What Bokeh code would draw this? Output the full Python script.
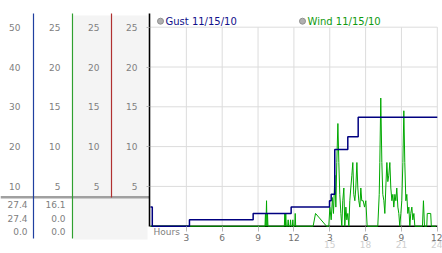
from bokeh.plotting import figure
from bokeh.models import Range1d, LinearAxis, FixedTicker
from bokeh.core.properties import value
from bokeh.embed import file_html
from bokeh.resources import INLINE

# ---------------- data ----------------
date_label = "11/15/10"
gust_name = "Gust"
wind_name = "Wind"

# gust (step series, left scale 0-50)
gust_hours = [0.0, 0.15, 3.26, 8.59, 11.77, 14.98, 15.12, 15.42, 16.51, 17.38, 24.0]
gust_vals = [4.8, 0.0, 1.6, 3.2, 4.8, 6.4, 8.0, 19.3, 22.5, 27.4, 27.4]

# wind (scale 0-25)
wind_hours = [0.0, 9.58, 9.62, 9.66, 9.71, 9.75, 9.79, 9.83,
              11.20, 11.24, 11.28, 11.32, 11.36, 11.48, 11.52, 11.56, 11.68, 11.72, 11.76,
              11.87, 11.91, 11.95, 12.07, 12.11, 12.15,
              13.61, 13.81, 14.73,
              14.92, 15.01, 15.12, 15.23, 15.31, 15.43, 15.51, 15.59, 15.68, 15.76, 15.84,
              15.93, 16.01, 16.09, 16.18, 16.26, 16.35, 16.43, 16.51, 16.60, 16.68, 16.76,
              16.85, 16.93, 17.01, 17.10, 17.18, 17.27, 17.35, 17.43, 17.52, 17.60, 17.68,
              17.80, 17.91, 18.02, 18.13,
              19.02, 19.14, 19.19, 19.27, 19.36, 19.44, 19.53, 19.61, 19.69, 19.78, 19.86,
              19.94, 20.03, 20.11, 20.20, 20.28, 20.36, 20.45, 20.53, 20.61, 20.70, 20.78,
              20.86, 20.95, 21.03, 21.12, 21.20, 21.28, 21.37, 21.45, 21.53, 21.62, 21.70,
              21.78, 21.87, 21.95, 22.04, 22.12,
              22.76, 22.84, 22.93, 23.12, 23.16, 23.45, 23.50, 23.90]
wind_vals = [0.0, 0.0, 1.6, 0.0, 3.2, 0.0, 1.6, 0.0,
             0.0, 1.6, 0.0, 1.6, 0.0, 0.0, 0.8, 0.0, 0.0, 0.8, 0.0,
             0.0, 0.8, 0.0, 0.0, 1.6, 0.0,
             0.0, 1.6, 0.0,
             0.0, 2.4, 0.8, 3.6, 1.6, 6.4, 2.4, 8.0, 12.9, 8.0, 4.0,
             1.6, 0.0, 3.2, 4.8, 0.0, 2.4, 0.8, 1.6, 0.0, 3.2, 4.8,
             6.4, 8.0, 4.0, 3.2, 4.8, 8.0, 4.8, 3.2, 2.4, 4.8, 3.2,
             3.2, 2.4, 3.2, 0.0,
             0.0, 4.0, 8.0, 16.1, 8.0, 4.0, 3.2, 1.6, 4.8, 8.0, 5.6,
             6.4, 8.0, 4.8, 3.2, 4.0, 2.4, 4.0, 3.2, 4.8, 2.4, 1.6,
             0.0, 1.6, 3.2, 8.0, 14.5, 8.0, 3.2, 4.0, 1.6, 2.4, 0.0,
             1.6, 2.4, 0.8, 1.6, 0.0,
             0.0, 3.2, 0.0, 0.0, 1.6, 1.6, 0.0, 0.0]

# summary table values
gust_stats = [27.4, 27.4, 0.0]
wind_stats = [16.1, 0.0, 0.0]

# scales / ticks
gust_ticks = [10, 20, 30, 40, 50]
wind_ticks = [5, 10, 15, 20, 25]
hour_ticks = [3, 6, 9, 12, 15, 18, 21, 24]
hour_tick_labels = ["3", "6", "9", "12", "3", "6", "9", "12"]
hour_ticks_pm = [15, 18, 21, 24]
grid_hours = [3, 6, 9, 12, 15, 18, 21, 24]
x_label = "Hours"

# ---------------- layout helpers (pixel layout -> data space) ----------------
W, H = 442, 253
X0_PX, PX_PER_H = 150.0, 11.95
Y0_PX, PX_PER_U = 225.7, 7.96


def hx(px):
    return (px - X0_PX) / PX_PER_H


def vy(py):
    return (Y0_PX - py) / PX_PER_U


FONT = value("DejaVu Sans")

p = figure(width=W, height=H, output_backend="svg", toolbar_location=None,
           x_range=Range1d(hx(0), hx(W)), y_range=Range1d(vy(H), vy(0)),
           x_axis_type=None, y_axis_type=None, min_border=0,
           outline_line_color=None, tools="")
p.extra_y_ranges = {"gust": Range1d(2 * vy(H), 2 * vy(0))}
p.background_fill_color = "white"
p.border_fill_color = "white"

# grey background band of the two right-hand scale columns
p.quad(left=[hx(73)], right=[hx(147)], top=[vy(15)], bottom=[vy(239)],
       fill_color="#f4f4f4", line_color=None)

# grid lines
p.segment(x0=grid_hours, y0=[0] * len(grid_hours), x1=grid_hours, y1=[max(wind_ticks)] * len(grid_hours),
          line_color="#dcdcdc", line_width=1)
p.segment(x0=[0] * len(wind_ticks), y0=wind_ticks, x1=[24] * len(wind_ticks), y1=wind_ticks,
          line_color="#dcdcdc", line_width=1)

# separator line above the table
p.segment(x0=[hx(0)], y0=[vy(196.7)], x1=[hx(149)], y1=[vy(196.7)], line_color="#a0a0a0", line_width=2.5)

# baseline
p.segment(x0=[0], y0=[0], x1=[24], y1=[0], line_color="black", line_width=1.5)

# series
p.line(wind_hours, wind_vals, line_color="#00a800", line_width=1)
p.step(gust_hours, gust_vals, mode="after", line_color="#000080", line_width=1.5, y_range_name="gust")

# legend-like headers
p.scatter([hx(160), hx(302)], [vy(20.7), vy(20.7)], size=6, fill_color="#b0b0b0", line_color="#909090")
p.text([hx(165)], [vy(20.7)], text=[f"{gust_name} {date_label}"], text_font=FONT, text_font_size="10px",
       text_color="#10108a", text_baseline="middle", text_align="left")
p.text([hx(307)], [vy(20.7)], text=[f"{wind_name} {date_label}"], text_font=FONT, text_font_size="10px",
       text_color="#109a10", text_baseline="middle", text_align="left")

# summary table
rows_y = [vy(204), vy(218), vy(231)]
p.text([hx(27)] * 3, rows_y, text=[f"{v:.1f}" for v in gust_stats], text_font=FONT, text_font_size="9px",
       text_color="#808080", text_baseline="middle", text_align="right")
p.text([hx(65)] * 3, rows_y, text=[f"{v:.1f}" for v in wind_stats], text_font=FONT, text_font_size="9px",
       text_color="#808080", text_baseline="middle", text_align="right")

# "Hours" label
p.text([hx(153)], [vy(231)], text=[x_label], text_font=FONT, text_font_size="9px",
       text_color="#808080", text_baseline="middle", text_align="left")


# ---------------- axes ----------------
def yaxis(loc_px, ticks, color, standoff, top_py, bottom_py, rng="default", scale=1.0,
          tick_out=0, tick_color=None, width=1.2):
    ax = LinearAxis(y_range_name=rng, fixed_location=hx(loc_px),
                    ticker=FixedTicker(ticks=ticks, minor_ticks=[]),
                    bounds=(scale * vy(bottom_py), scale * vy(top_py)),
                    axis_line_color=color, axis_line_width=width,
                    major_tick_in=0, major_tick_out=tick_out, minor_tick_in=0, minor_tick_out=0,
                    major_tick_line_color=tick_color, major_tick_line_width=1,
                    major_label_standoff=standoff,
                    major_label_text_font="DejaVu Sans", major_label_text_font_size="9px",
                    major_label_text_color="#808080")
    p.add_layout(ax, "left")


yaxis(149, wind_ticks, "black", 9, 13, Y0_PX, tick_out=3, tick_color="#b8b8b8", width=1.6)
yaxis(111, wind_ticks, "#b03030", 12, 12.7, 196.7)
yaxis(72, wind_ticks, "#30a030", 12, 12.7, 237.5)
yaxis(33, gust_ticks, "#2040a0", 13, 12.7, 237.5, rng="gust", scale=2.0)

xa = LinearAxis(fixed_location=0, ticker=FixedTicker(ticks=hour_ticks, minor_ticks=[]),
                major_label_overrides={t: l for t, l in zip(hour_ticks, hour_tick_labels)},
                axis_line_color=None, major_tick_in=0, major_tick_out=5, minor_tick_in=0, minor_tick_out=0,
                major_tick_line_color="#b8b8b8", major_label_standoff=3,
                major_label_text_font="DejaVu Sans", major_label_text_font_size="9px",
                major_label_text_color="#707070")
p.add_layout(xa, "below")

xb = LinearAxis(fixed_location=0, ticker=FixedTicker(ticks=hour_ticks_pm, minor_ticks=[]),
                axis_line_color=None, major_tick_in=0, major_tick_out=0, minor_tick_in=0, minor_tick_out=0,
                major_tick_line_color=None, major_label_standoff=15,
                major_label_text_font="DejaVu Sans", major_label_text_font_size="9px",
                major_label_text_color="#cfcfcf")
p.add_layout(xb, "below")

open("out.html", "w").write(file_html(p, INLINE))
